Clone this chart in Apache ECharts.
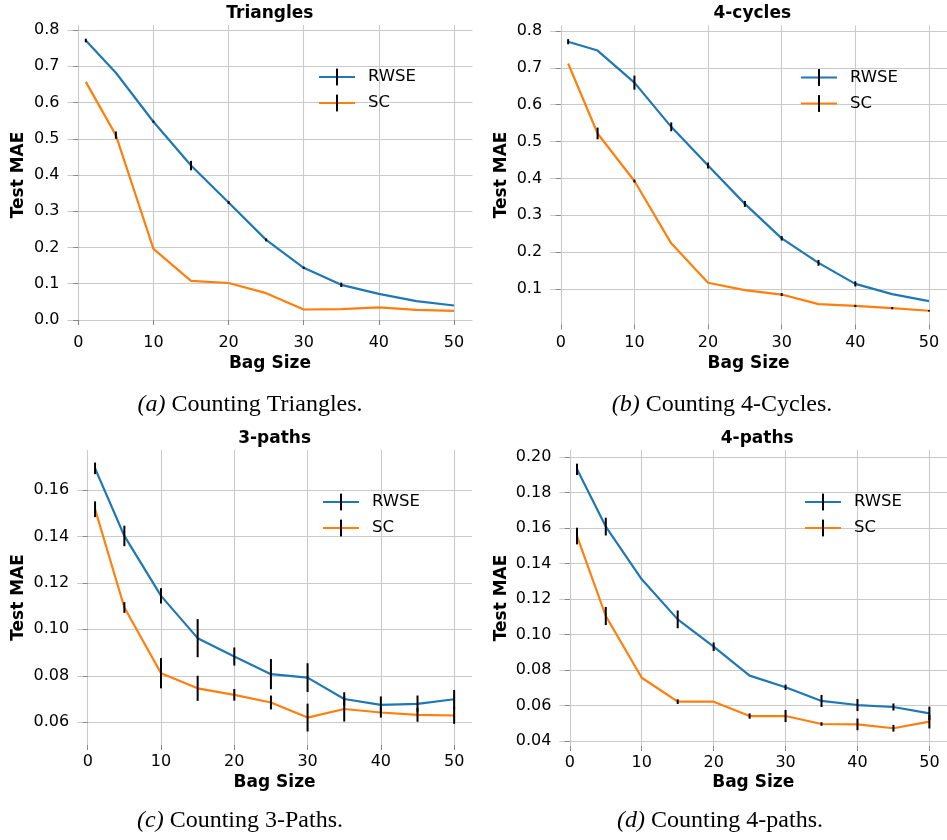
<!DOCTYPE html>
<html><head><meta charset="utf-8">
<script src="https://cdn.jsdelivr.net/npm/echarts@6/dist/echarts.min.js"></script>
<style>html,body{margin:0;padding:0;background:#fff}#c{width:947px;height:840px}</style>
</head><body><div id="c"></div>
<script>
// ---------------- data ----------------
const bagSizes = [1, 5, 10, 15, 20, 25, 30, 35, 40, 45, 50];
const xTicks = [0, 10, 20, 30, 40, 50];

// (a) Triangles
const triRwse    = [0.771, 0.682, 0.547, 0.426, 0.324, 0.221, 0.144, 0.097, 0.072, 0.052, 0.040];
const triRwseErr = [0.005, 0, 0.003, 0.013, 0.004, 0.004, 0.003, 0.006, 0, 0, 0];
const triSc      = [0.657, 0.510, 0.196, 0.108, 0.102, 0.074, 0.029, 0.030, 0.035, 0.028, 0.025];
const triScErr   = [0, 0.010, 0, 0, 0, 0, 0, 0, 0, 0, 0];
const triYTicks  = [0, 0.1, 0.2, 0.3, 0.4, 0.5, 0.6, 0.7, 0.8];

// (b) 4-cycles
const cycRwse    = [0.771, 0.747, 0.660, 0.540, 0.435, 0.331, 0.2375, 0.171, 0.114, 0.086, 0.067];
const cycRwseErr = [0.007, 0, 0.019, 0.012, 0.008, 0.008, 0.006, 0.008, 0.007, 0, 0];
const cycSc      = [0.712, 0.522, 0.393, 0.224, 0.117, 0.097, 0.085, 0.059, 0.054, 0.048, 0.041];
const cycScErr   = [0, 0.016, 0.004, 0, 0, 0, 0.004, 0, 0.003, 0.003, 0.002];
const cycYTicks  = [0.1, 0.2, 0.3, 0.4, 0.5, 0.6, 0.7, 0.8];

// (c) 3-paths
const p3Rwse     = [0.1693, 0.1402, 0.1144, 0.0962, 0.0883, 0.0807, 0.0792, 0.0700, 0.0675, 0.0679, 0.0699];
const p3RwseErr  = [0.0025, 0.0044, 0.0033, 0.0082, 0.0039, 0.0065, 0.0062, 0.0029, 0.0036, 0.0036, 0.0040];
const p3Sc       = [0.1517, 0.1094, 0.0811, 0.0746, 0.0718, 0.0685, 0.0620, 0.0657, 0.0642, 0.0632, 0.0629];
const p3ScErr    = [0.0034, 0.0023, 0.0065, 0.0054, 0.0025, 0.0030, 0.0060, 0.0054, 0.0022, 0.0030, 0.0036];
const p3YTicks   = [0.06, 0.08, 0.10, 0.12, 0.14, 0.16];

// (d) 4-paths
const p4Rwse     = [0.1932, 0.1609, 0.1312, 0.1086, 0.0932, 0.0769, 0.0703, 0.0626, 0.0603, 0.0592, 0.0556];
const p4RwseErr  = [0.0032, 0.0050, 0, 0.0050, 0.0024, 0, 0.0015, 0.0034, 0.0034, 0.0020, 0.0038];
const p4Sc       = [0.1556, 0.1105, 0.0757, 0.0622, 0.0622, 0.0541, 0.0541, 0.0496, 0.0494, 0.0472, 0.0509];
const p4ScErr    = [0.0047, 0.0051, 0, 0.0013, 0, 0.0015, 0.0034, 0.0010, 0.0033, 0.0019, 0.0038];
const p4YTicks   = [0.04, 0.06, 0.08, 0.10, 0.12, 0.14, 0.16, 0.18, 0.20];

const seriesNames = ['RWSE', 'SC'];
const titles = ['Triangles', '4-cycles', '3-paths', '4-paths'];
const captionTags = ['(a)', '(b)', '(c)', '(d)'];
const captionTexts = [' Counting Triangles.', ' Counting 4-Cycles.', ' Counting 3-Paths.', ' Counting 4-paths.'];
const xName = 'Bag Size';
const yName = 'Test MAE';

// ---------------- layout ----------------
const FONT = 'DejaVu Sans';
const SERIF = 'Liberation Serif';
const COLORS = ['#1f77b4', '#ff7f0e'];

const panels = [
  { rwse: triRwse, rwseErr: triRwseErr, sc: triSc, scErr: triScErr, yTicks: triYTicks, dec: 1,
    grid: { left: 67.4, top: 25, width: 405, height: 300 }, yMin: -0.0138, yMax: 0.8138,
    yGap: 40, xGap: 30, xMargin: 10, legend: { left: 318, top: 65.5 }, titleY: 13.5, capX: 250, capY: 405 },
  { rwse: cycRwse, rwseErr: cycRwseErr, sc: cycSc, scErr: cycScErr, yTicks: cycYTicks, dec: 1,
    grid: { left: 550.1, top: 25.5, width: 404.3, height: 298.9 }, yMin: 0.004, yMax: 0.815,
    yGap: 40, xGap: 31, xMargin: 10, legend: { left: 800, top: 66 }, titleY: 13.5, capX: 722, capY: 405 },
  { rwse: p3Rwse, rwseErr: p3RwseErr, sc: p3Sc, scErr: p3ScErr, yTicks: p3YTicks, dec: 2,
    grid: { left: 77.1, top: 450, width: 395, height: 295 }, yMin: 0.0502, yMax: 0.1772,
    yGap: 50, xGap: 29, xMargin: 9, legend: { left: 322, top: 490.5 }, titleY: 439, capX: 240, capY: 821 },
  { rwse: p4Rwse, rwseErr: p4RwseErr, sc: p4Sc, scErr: p4ScErr, yTicks: p4YTicks, dec: 2,
    grid: { left: 559.4, top: 450, width: 395.6, height: 296 }, yMin: 0.0372, yMax: 0.2041,
    yGap: 49.5, xGap: 28, xMargin: 9, legend: { left: 804, top: 490.5 }, titleY: 439, capX: 720, capY: 821 }
];

const grids = [], xAxes = [], yAxes = [], series = [], legends = [], titleComps = [];

function errRender(params, api) {
  const x = api.value(0), y = api.value(1), e = api.value(2);
  if (!e) return null;
  const p1 = api.coord([x, y - e]);
  const p2 = api.coord([x, y + e]);
  return { type: 'line', shape: { x1: p1[0], y1: p1[1], x2: p2[0], y2: p2[1] },
           style: { stroke: '#000', lineWidth: 2 } };
}

panels.forEach((p, i) => {
  grids.push(Object.assign({ containLabel: false }, p.grid));
  xAxes.push({
    type: 'value', gridIndex: i, min: -1.45, max: 52.45,
    axisLine: { show: false },
    axisTick: { show: true, length: 5, customValues: xTicks, lineStyle: { color: '#888', width: 1 } },
    axisLabel: { customValues: xTicks, fontFamily: FONT, fontSize: 16, color: '#000', margin: p.xMargin },
    splitLine: { show: true, lineStyle: { color: '#cacaca', width: 1.1 } },
    name: xName, nameLocation: 'middle', nameGap: p.xGap,
    nameTextStyle: { fontFamily: FONT, fontWeight: 'bold', fontSize: 17, color: '#000' }
  });
  yAxes.push({
    type: 'value', gridIndex: i, min: p.yMin, max: p.yMax,
    axisLine: { show: false },
    axisTick: { show: true, length: 5, customValues: p.yTicks, lineStyle: { color: '#888', width: 1 } },
    axisLabel: { customValues: p.yTicks, fontFamily: FONT, fontSize: 16, color: '#000', margin: 8,
                 formatter: v => Number(v).toFixed(p.dec) },
    splitLine: { show: true, lineStyle: { color: '#cacaca', width: 1.1 } },
    name: yName, nameLocation: 'middle', nameGap: p.yGap,
    nameTextStyle: { fontFamily: FONT, fontWeight: 'bold', fontSize: 17, color: '#000' }
  });
  const vals = [p.rwse, p.sc], errs = [p.rwseErr, p.scErr];
  vals.forEach((v, s) => {
    series.push({
      type: 'line', name: seriesNames[s], xAxisIndex: i, yAxisIndex: i,
      data: bagSizes.map((x, k) => [x, v[k]]),
      showSymbol: false, symbol: 'path://M0,0M10,10M4.4,0H5.6V10H4.4Z', symbolKeepAspect: false,
      lineStyle: { width: 2.2, color: COLORS[s] }, itemStyle: { color: COLORS[s] },
      z: 2 + s, silent: true, animation: false
    });
  });
  vals.forEach((v, s) => {
    series.push({
      type: 'custom', name: seriesNames[s] + ' err', xAxisIndex: i, yAxisIndex: i,
      data: bagSizes.map((x, k) => [x, v[k], errs[s][k]]),
      encode: { x: 0, y: 1 }, renderItem: errRender, z: 5, silent: true, animation: false
    });
  });
  legends.push({
    left: p.legend.left, top: p.legend.top + 3, orient: 'vertical', padding: 0, itemGap: 9,
    itemWidth: 36, itemHeight: 21, data: seriesNames, selectedMode: false,
    itemStyle: { color: '#000', borderWidth: 0 },
    textStyle: { fontFamily: FONT, fontSize: 16.5, color: '#000', padding: [0, 0, 0, 8] }
  });
  titleComps.push({
    text: titles[i], left: p.grid.left + p.grid.width / 2, top: p.titleY, padding: 0,
    textAlign: 'center', textVerticalAlign: 'middle',
    textStyle: { fontFamily: FONT, fontWeight: 'bold', fontSize: 17, color: '#000' }
  });
  titleComps.push({
    text: '{i|' + captionTags[i] + '}' + captionTexts[i], left: p.capX, top: p.capY, padding: 0,
    textAlign: 'center', textVerticalAlign: 'middle',
    textStyle: { fontFamily: SERIF, fontWeight: 'normal', fontSize: 24, color: '#000',
      rich: { i: { fontFamily: SERIF, fontStyle: 'italic', fontSize: 24, color: '#000' } } }
  });
});

const chart = echarts.init(document.getElementById('c'), null, { renderer: 'canvas' });
chart.setOption({
  animation: false,
  backgroundColor: '#fff',
  title: titleComps,
  legend: legends,
  grid: grids,
  xAxis: xAxes,
  yAxis: yAxes,
  series: series
});
</script>
</body></html>
